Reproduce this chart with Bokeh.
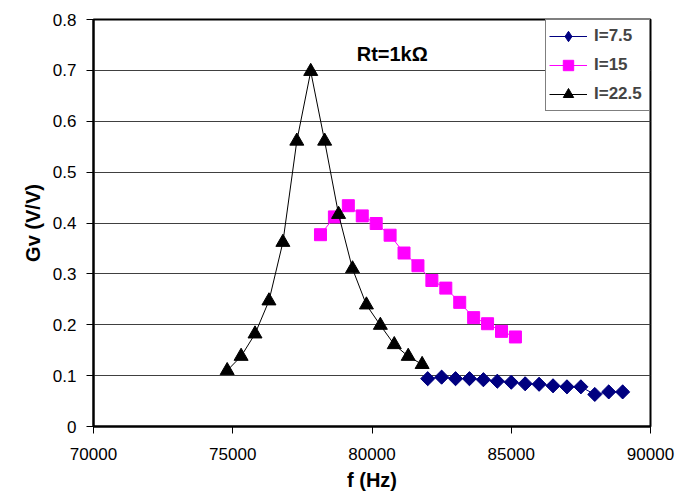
from bokeh.plotting import figure
from bokeh.models import Range1d, FixedTicker, NumeralTickFormatter, Label, Legend, LegendItem, ColumnDataSource
from bokeh.embed import file_html
from bokeh.resources import INLINE
import math

# I = 7.5
f_75 = [82000, 82500, 83000, 83500, 84000, 84500, 85000, 85500, 86000, 86500, 87000, 87500, 88000, 88500, 89000]
g_75 = [0.094, 0.097, 0.094, 0.094, 0.092, 0.089, 0.087, 0.084, 0.083, 0.080, 0.078, 0.078, 0.063, 0.068, 0.068]

# I = 15
f_15 = [78150, 78650, 79150, 79650, 80150, 80650, 81150, 81650, 82150, 82650, 83150, 83650, 84150, 84650, 85150]
g_15 = [0.377, 0.412, 0.434, 0.414, 0.399, 0.376, 0.341, 0.316, 0.287, 0.272, 0.244, 0.214, 0.202, 0.187, 0.176]

# I = 22.5
f_225 = [74800, 75300, 75800, 76300, 76800, 77300, 77800, 78300, 78800, 79300, 79800, 80300, 80800, 81300, 81800]
g_225 = [0.110, 0.138, 0.182, 0.247, 0.362, 0.561, 0.698, 0.561, 0.417, 0.310, 0.239, 0.199, 0.161, 0.138, 0.122]

x_ticks = [70000, 75000, 80000, 85000, 90000]
y_ticks = [0, 0.1, 0.2, 0.3, 0.4, 0.5, 0.6, 0.7, 0.8]

FONT = "Liberation Sans"

p = figure(width=694, height=499, output_backend="svg", toolbar_location=None,
           x_range=Range1d(70000, 90000), y_range=Range1d(0, 0.8))
p.min_border_left = 93
p.min_border_right = 44
p.min_border_top = 19
p.min_border_bottom = 73
p.background_fill_color = "white"
p.border_fill_color = "white"
p.outline_line_color = "black"
p.outline_line_width = 2

p.xgrid.visible = False
p.ygrid.grid_line_color = "#404040"
p.ygrid.grid_line_width = 1
p.ygrid.ticker = FixedTicker(ticks=y_ticks)

for ax in (p.xaxis[0], p.yaxis[0]):
    ax.axis_line_color = "black"
    ax.axis_line_width = 2
    ax.major_tick_line_color = "black"
    ax.major_tick_line_width = 1
    ax.major_tick_in = 0
    ax.major_tick_out = 7
    ax.minor_tick_line_color = None
    ax.major_label_text_font = FONT
    ax.major_label_text_font_size = "17px"
    ax.major_label_text_color = "black"
    ax.axis_label_text_font = FONT
    ax.axis_label_text_font_style = "bold"
    ax.axis_label_text_font_size = "20px"
    ax.axis_label_text_color = "black"

p.xaxis.ticker = FixedTicker(ticks=x_ticks)
p.xaxis.formatter = NumeralTickFormatter(format="0")
p.xaxis.axis_label = "f (Hz)"
p.xaxis.major_label_standoff = 14
p.xaxis.axis_label_standoff = 6

p.yaxis.ticker = FixedTicker(ticks=y_ticks)
p.yaxis.formatter = NumeralTickFormatter(format="0.[0]")
p.yaxis.axis_label = "Gv (V/V)"
p.yaxis.major_label_standoff = 10
p.yaxis.axis_label_standoff = 6

NAVY = "#000080"
MAG = "#FF00FF"

src_75 = ColumnDataSource(data=dict(f=f_75, g=g_75))

l1 = p.line("f", "g", source=src_75, line_color=NAVY, line_width=1)
# diamond key glyph (sits inside the rotated squares drawn on top of it)
k1 = p.scatter("f", "g", source=src_75, marker="diamond", size=13,
               fill_color=NAVY, line_color=NAVY)
m1 = p.scatter("f", "g", source=src_75, marker="square", angle=math.pi / 4, size=10,
               fill_color=NAVY, line_color=NAVY)
l2 = p.line(f_15, g_15, line_color=MAG, line_width=1)
m2 = p.scatter(f_15, g_15, marker="square", size=12, fill_color=MAG, line_color=MAG)
l3 = p.line(f_225, g_225, line_color="black", line_width=1)
m3 = p.scatter(f_225, g_225, marker="triangle", size=14, fill_color="black", line_color="black")

legend = Legend(items=[
    LegendItem(label="I=7.5", renderers=[l1, k1]),
    LegendItem(label="I=15", renderers=[l2, m2]),
    LegendItem(label="I=22.5", renderers=[l3, m3]),
], location="top_right")
legend.margin = 0
legend.padding = 3
legend.spacing = 3
legend.glyph_width = 38
legend.glyph_height = 26
legend.label_height = 26
legend.label_width = 52
legend.label_standoff = 7
legend.label_text_font = FONT
legend.label_text_font_style = "bold"
legend.label_text_font_size = "17px"
legend.border_line_color = "black"
legend.border_line_width = 1.5
legend.background_fill_color = "white"
legend.background_fill_alpha = 1
p.add_layout(legend)

title = Label(x=79450, y=0.733, text="Rt=1kΩ", text_font=FONT, text_font_style="bold",
              text_font_size="20px", text_baseline="middle", text_color="black")
p.add_layout(title)

open("out.html", "w").write(file_html(p, INLINE))
